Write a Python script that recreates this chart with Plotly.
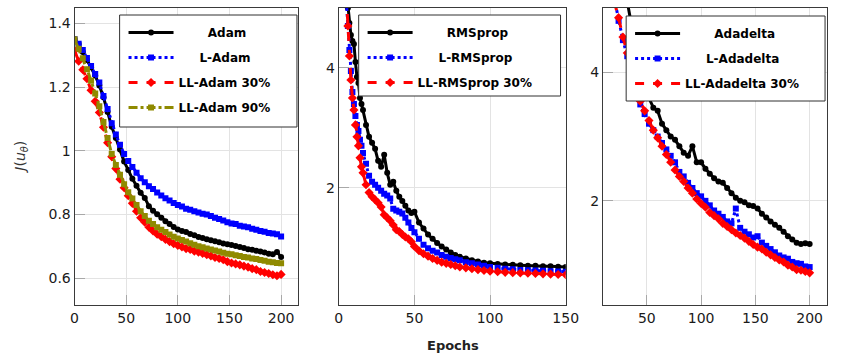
import plotly.graph_objects as go

# ---------------- data ----------------
# Panel 1: Adam family
ep1 = list(range(0, 201, 4))
adam = [1.350, 1.335, 1.310, 1.285, 1.262, 1.236, 1.205, 1.168, 1.122, 1.075, 1.040, 1.004, 0.966, 0.940,
        0.912, 0.890, 0.868, 0.852, 0.826, 0.812, 0.801, 0.790, 0.779, 0.770, 0.761, 0.753, 0.748, 0.745,
        0.739, 0.735, 0.729, 0.726, 0.722, 0.719, 0.716, 0.713, 0.709, 0.707, 0.704, 0.701, 0.698, 0.695,
        0.691, 0.689, 0.686, 0.684, 0.681, 0.677, 0.675, 0.682, 0.667]
l_adam = [1.350, 1.336, 1.316, 1.291, 1.266, 1.241, 1.214, 1.172, 1.131, 1.086, 1.051, 1.019, 0.990, 0.968,
          0.949, 0.931, 0.914, 0.901, 0.889, 0.880, 0.869, 0.860, 0.851, 0.844, 0.836, 0.830, 0.825, 0.818,
          0.815, 0.810, 0.806, 0.802, 0.800, 0.795, 0.790, 0.786, 0.781, 0.776, 0.772, 0.770, 0.765, 0.762,
          0.760, 0.755, 0.752, 0.748, 0.746, 0.742, 0.740, 0.738, 0.731]
ll_adam30 = [1.315, 1.281, 1.254, 1.226, 1.190, 1.155, 1.120, 1.074, 1.025, 0.981, 0.944, 0.911, 0.884,
             0.859, 0.835, 0.810, 0.790, 0.776, 0.760, 0.748, 0.738, 0.730, 0.722, 0.715, 0.708, 0.703,
             0.698, 0.693, 0.690, 0.685, 0.682, 0.678, 0.674, 0.670, 0.665, 0.662, 0.658, 0.652, 0.648,
             0.645, 0.642, 0.638, 0.635, 0.630, 0.627, 0.621, 0.618, 0.615, 0.611, 0.608, 0.612]
ll_adam90 = [1.350, 1.320, 1.290, 1.256, 1.220, 1.180, 1.140, 1.090, 1.040, 0.990, 0.955, 0.925, 0.895,
             0.870, 0.850, 0.830, 0.810, 0.795, 0.780, 0.770, 0.760, 0.752, 0.745, 0.737, 0.730, 0.725,
             0.720, 0.715, 0.710, 0.705, 0.700, 0.697, 0.693, 0.690, 0.687, 0.684, 0.680, 0.677, 0.675,
             0.672, 0.670, 0.667, 0.665, 0.662, 0.660, 0.657, 0.655, 0.652, 0.650, 0.648, 0.647]

# Panel 2: RMSprop family
ep2 = [5, 6, 7, 8, 9, 10, 11, 12, 13, 14, 15, 16, 18, 20, 22, 24, 26, 28, 30, 32, 34, 36, 38, 40, 42, 44,
       46, 48, 50, 53, 56, 59, 62, 65, 68, 71, 74, 77, 80, 84, 88, 92, 96, 100, 105, 110, 115, 120, 125,
       130, 135, 140, 145, 150]
rmsprop = [5.30, 5.00, 4.75, 4.55, 4.45, 4.40, 4.10, 3.85, 3.75, 3.50, 3.40, 3.30, 3.05, 2.85, 2.75, 2.65,
           2.45, 2.35, 2.55, 2.25, 2.05, 2.10, 1.95, 1.85, 1.78, 1.70, 1.62, 1.58, 1.60, 1.42, 1.32, 1.22,
           1.15, 1.08, 1.02, 0.97, 0.92, 0.88, 0.85, 0.82, 0.79, 0.77, 0.75, 0.74, 0.73, 0.72, 0.715, 0.71,
           0.70, 0.70, 0.69, 0.69, 0.685, 0.68]
l_rmsprop = [5.10, 4.70, 4.30, 3.95, 3.60, 3.40, 3.20, 3.05, 2.95, 2.80, 2.70, 2.58, 2.40, 2.20, 2.10, 2.05,
             2.00, 1.95, 1.90, 1.87, 1.82, 1.65, 1.62, 1.60, 1.57, 1.50, 1.42, 1.33, 1.26, 1.15, 1.05, 0.99,
             0.95, 0.92, 0.88, 0.85, 0.83, 0.81, 0.79, 0.76, 0.74, 0.72, 0.70, 0.68, 0.665, 0.65, 0.64, 0.63,
             0.625, 0.62, 0.615, 0.61, 0.605, 0.60]
ll_rmsprop30 = [5.20, 4.70, 4.20, 3.80, 3.50, 3.30, 3.05, 2.85, 2.70, 2.50, 2.35, 2.25, 2.05, 1.92, 1.85,
                1.80, 1.75, 1.68, 1.55, 1.50, 1.45, 1.38, 1.30, 1.27, 1.22, 1.18, 1.15, 1.10, 1.02, 0.95,
                0.90, 0.86, 0.82, 0.79, 0.76, 0.74, 0.72, 0.70, 0.68, 0.665, 0.65, 0.635, 0.62, 0.61, 0.60,
                0.59, 0.585, 0.58, 0.575, 0.57, 0.565, 0.56, 0.555, 0.55]

# Panel 3: Adadelta family
ep3_black = list(range(32, 201, 4))
ep3 = list(range(20, 201, 4))
adadelta = [5.10, 4.70, 4.35, 4.05, 3.80, 3.60, 3.45, 3.40, 3.20, 3.10, 3.00, 2.95, 2.85, 2.75, 2.70, 2.85,
            2.60, 2.60, 2.50, 2.42, 2.35, 2.30, 2.28, 2.20, 2.12, 2.05, 2.00, 1.98, 1.93, 1.92, 1.88, 1.80,
            1.74, 1.68, 1.63, 1.58, 1.52, 1.45, 1.40, 1.35, 1.33, 1.34, 1.33]
l_adadelta = [5.15, 4.80, 4.50, 4.25, 4.00, 3.70, 3.50, 3.35, 3.20, 3.10, 3.00, 2.90, 2.80, 2.70, 2.60, 2.45,
              2.38, 2.28, 2.20, 2.12, 2.07, 2.00, 1.93, 1.85, 1.80, 1.75, 1.68, 1.65, 1.88, 1.58, 1.52, 1.48,
              1.43, 1.45, 1.35, 1.30, 1.25, 1.20, 1.15, 1.12, 1.10, 1.05, 1.03, 1.02, 0.98, 0.97]
ll_adadelta30 = [5.10, 4.85, 4.55, 4.30, 4.05, 3.75, 3.55, 3.40, 3.25, 3.10, 2.98, 2.85, 2.72, 2.60, 2.48,
                 2.38, 2.30, 2.20, 2.12, 2.03, 1.96, 1.90, 1.82, 1.77, 1.72, 1.65, 1.60, 1.55, 1.50, 1.46,
                 1.42, 1.37, 1.32, 1.28, 1.25, 1.20, 1.16, 1.12, 1.08, 1.05, 1.00, 0.97, 0.93, 0.92, 0.90,
                 0.88]

names1 = ["Adam", "L-Adam", "LL-Adam 30%", "LL-Adam 90%"]
names2 = ["RMSprop", "L-RMSprop", "LL-RMSprop 30%"]
names3 = ["Adadelta", "L-Adadelta", "LL-Adadelta 30%"]

y1_ticks = [0.6, 0.8, 1.0, 1.2, 1.4]
y1_labels = ["0.6", "0.8", "1", "1.2", "1.4"]
y23_ticks = [2, 4]
x1_ticks = [0, 50, 100, 150, 200]
x2_ticks = [0, 50, 100, 150]
x3_ticks = [50, 100, 150, 200]

# ---------------- styles ----------------
STY = [
    dict(color="#000000", dash="solid", symbol="circle", msize=6),
    dict(color="#0000ff", dash="dot", symbol="square", msize=6),
    dict(color="#ff0000", dash="dash", symbol="diamond", msize=7),
    dict(color="#8f8a00", dash="dashdot", symbol="square", msize=6),
]
FONT = "DejaVu Sans"
W, H = 841, 354

fig = go.Figure()


def pad(name, names):
    m = max(len(n) for n in names)
    return "\u00a0" * int(round((m - len(name)) * 1.0)) + name


def add(xs, ys, k, name, names, xa, ya, leg, grp):
    s = STY[k]
    fig.add_trace(go.Scatter(
        x=xs, y=ys, mode="lines+markers", name=pad(name, names),
        line=dict(color=s["color"], width=3, dash=s["dash"]),
        marker=dict(symbol=s["symbol"], size=s["msize"], color=s["color"]),
        xaxis=xa, yaxis=ya, legend=leg, legendgroup=grp, cliponaxis=True))


p1 = [adam, l_adam, ll_adam30, ll_adam90]
for k, (ys, nm) in enumerate(zip(p1, names1)):
    add(ep1, ys, k, nm, names1, "x", "y", "legend", f"a{k}")
p2 = [rmsprop, l_rmsprop, ll_rmsprop30]
for k, (ys, nm) in enumerate(zip(p2, names2)):
    add(ep2, ys, k, nm, names2, "x2", "y2", "legend2", f"b{k}")
p3x = [ep3_black, ep3, ep3]
p3 = [adadelta, l_adadelta, ll_adadelta30]
for k, (xs, ys, nm) in enumerate(zip(p3x, p3, names3)):
    add(xs, ys, k, nm, names3, "x3", "y3", "legend3", f"c{k}")


def px_x(p):
    return p / W


def px_y(p):
    return 1 - p / H


ydom = [px_y(305), px_y(8)]
axis_common = dict(showline=True, linecolor="#3a3a3a", linewidth=1, mirror=True,
                   showgrid=True, gridcolor="#e3e3e3", gridwidth=1, zeroline=False,
                   ticks="inside", ticklen=10, tickcolor="#a8a8a8",
                   tickfont=dict(family=FONT, size=14, color="#1a1a1a"))

fig.update_layout(
    width=W, height=H, margin=dict(l=0, r=0, t=0, b=0),
    plot_bgcolor="white", paper_bgcolor="white",
    xaxis=dict(domain=[px_x(72), px_x(300)], range=[0, 216.3], tickvals=x1_ticks, anchor="y", **axis_common),
    yaxis=dict(domain=ydom, range=[0.516, 1.448], tickvals=y1_ticks, ticktext=y1_labels, anchor="x", **axis_common),
    xaxis2=dict(domain=[px_x(341.7), px_x(573.3)], range=[0, 150], tickvals=x2_ticks, anchor="y2", **axis_common),
    yaxis2=dict(domain=ydom, range=[0.045, 5.0], tickvals=y23_ticks, anchor="x2", **axis_common),
    xaxis3=dict(domain=[px_x(611.3), px_x(840)], range=[9.6, 216], tickvals=x3_ticks, anchor="y3", **axis_common),
    yaxis3=dict(domain=ydom, range=[0.38, 5.0], tickvals=y23_ticks, anchor="x3", **axis_common),
    showlegend=True,
)

leg_common = dict(bgcolor="rgba(0,0,0,0)", borderwidth=0, xanchor="left", yanchor="top",
                  font=dict(family=FONT, size=12, color="#000000", weight="bold"),
                  tracegroupgap=6, itemwidth=45, itemclick=False, itemdoubleclick=False)
fig.update_layout(
    legend=dict(x=px_x(122), y=px_y(18), **leg_common),
    legend2=dict(x=px_x(366), y=px_y(18), **leg_common),
    legend3=dict(x=px_x(639), y=px_y(19), **leg_common),
)

# legend frames
for (x0, y0, x1, y1) in [(118, 15, 299, 127), (362, 15, 568, 96), (635, 16, 838, 101)]:
    fig.add_shape(type="rect", xref="paper", yref="paper",
                  x0=px_x(x0), x1=px_x(x1), y0=px_y(y1), y1=px_y(y0),
                  line=dict(color="#303030", width=1), fillcolor="white", layer="above")

fig.add_annotation(text="Epochs", xref="paper", yref="paper", x=px_x(458), y=px_y(345),
                   xanchor="center", yanchor="middle", showarrow=False,
                   font=dict(family=FONT, size=13, color="#222222", weight="bold"))
fig.add_annotation(text="<i>J</i>(<i>u</i><sub><i>θ</i></sub>)", xref="paper", yref="paper",
                   x=px_x(17), y=px_y(157), xanchor="center", yanchor="middle",
                   textangle=-90, showarrow=False,
                   font=dict(family=FONT, size=14, color="#333333"))

fig.write_html("out.html", config={"displayModeBar": False},
               post_script="document.body.style.margin='0';document.body.style.overflow='hidden';")
